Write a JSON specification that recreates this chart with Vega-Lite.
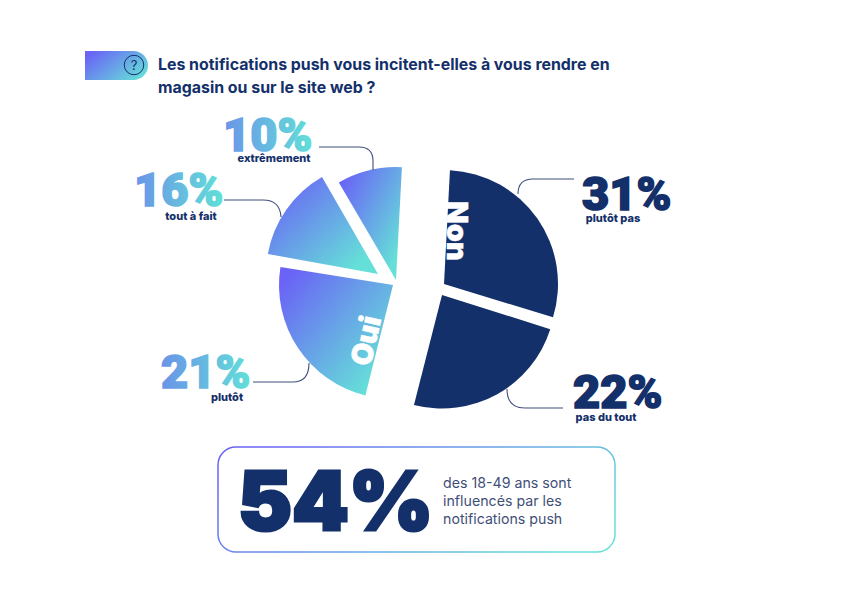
{"$schema":"https://vega.github.io/schema/vega-lite/v6.json","width":851,"height":595,"autosize":{"type":"fit","contains":"padding"},"padding":0,"background":"white","config":{"view":{"stroke":null},"text":{"baseline":"alphabetic"}},
"datasets":{"slices":[
{"name":"extrêmement","pct":"10%","value":10,"group":"Oui","a0":-30.4,"a1":3},
{"name":"tout à fait","pct":"16%","value":16,"group":"Oui","a0":-79.7,"a1":-30},
{"name":"plutôt","pct":"21%","value":21,"group":"Oui","a0":194,"a1":279.1},
{"name":"plutôt pas","pct":"31%","value":31,"group":"Non","a0":3,"a1":107},
{"name":"pas du tout","pct":"22%","value":22,"group":"Non","a0":107.5,"a1":194.3}],
"title":[{"l1":"Les notifications push vous incitent-elles à vous rendre en","l2":"magasin ou sur le site web ?","q":"?","big":"54%","b1":"des 18-49 ans sont","b2":"influencés par les","b3":"notifications push"}]},
"layer":[
{"data":{"name":"title"},"layer":[
{"mark":{"type":"rect","x":84,"y":50,"x2":147,"y2":79,"cornerRadiusTopRight":15,"cornerRadiusBottomRight":15,"fill":{"gradient":"linear","x1":0,"y1":0.2,"x2":1,"y2":0.8,"stops":[{"offset":0,"color":"#6a63f6"},{"offset":1,"color":"#65e0d8"}]}},"encoding":{}},
{"mark":{"type":"rule","x":84,"x2":122,"y":64,"stroke":"#14306a","strokeWidth":1},"encoding":{}},
{"mark":{"type":"point","x":133,"y":64,"size":380,"shape":"circle","filled":false,"opacity":1,"stroke":"#14306a","strokeWidth":1},"encoding":{}},
{"mark":{"type":"text","x":133,"y":69,"align":"center","baseline":"alphabetic","font":"Inter","fontSize":13,"fill":"#14306a"},"encoding":{"text":{"field":"q"}}},
{"mark":{"type":"text","x":157,"y":69,"align":"left","baseline":"alphabetic","font":"Inter","fontWeight":700,"fontSize":15.9,"fill":"#14306a"},"encoding":{"text":{"field":"l1"}}},
{"mark":{"type":"text","x":157,"y":92,"align":"left","baseline":"alphabetic","font":"Inter","fontWeight":700,"fontSize":15.9,"fill":"#14306a"},"encoding":{"text":{"field":"l2"}}},
{"mark":{"type":"rect","x":217,"y":446,"x2":614,"y2":551,"cornerRadius":18,"fill":"white","strokeWidth":1.5,"stroke":{"gradient":"linear","x1":0,"y1":0.3,"x2":1,"y2":0.7,"stops":[{"offset":0,"color":"#6a63f6"},{"offset":1,"color":"#65e0d8"}]}},"encoding":{}},
{"mark":{"type":"text","x":237,"y":529,"align":"left","baseline":"alphabetic","font":"Inter","fontWeight":900,"fontSize":81,"fill":"#14306a","stroke":"#14306a","strokeWidth":3},"encoding":{"text":{"field":"big"}}},
{"mark":{"type":"text","x":442,"y":487,"align":"left","baseline":"alphabetic","font":"Inter","fontSize":14.2,"fill":"#3f4f78"},"encoding":{"text":{"field":"b1"}}},
{"mark":{"type":"text","x":442,"y":505,"align":"left","baseline":"alphabetic","font":"Inter","fontSize":14.2,"fill":"#3f4f78"},"encoding":{"text":{"field":"b2"}}},
{"mark":{"type":"text","x":442,"y":523,"align":"left","baseline":"alphabetic","font":"Inter","fontSize":14.2,"fill":"#3f4f78"},"encoding":{"text":{"field":"b3"}}}
]},
{"data":{"name":"slices"},"transform":[{"filter":"datum.value==10"}],"layer":[
{"mark":{"type":"arc","x":395,"y":279,"outerRadius":113,"fill":{"gradient":"linear","x1":0,"y1":0.15,"x2":0.9,"y2":1,"stops":[{"offset":0,"color":"#6a63f6"},{"offset":0.9,"color":"#65e0d8"}]}},"encoding":{"theta":{"field":"a0","type":"quantitative","stack":null,"scale":{"domain":[-90,270],"range":[-1.5708,4.7124]}},"theta2":{"field":"a1"}}},
{"mark":{"type":"point","x":318,"y":146,"size":4,"filled":false,"opacity":1,"stroke":"#3f4f78","strokeWidth":1.1,"shape":"M0,0 h40 q14,0 14,14 v9"},"encoding":{}},
{"mark":{"type":"text","x":222,"y":150,"align":"left","baseline":"alphabetic","font":"Roboto","fontWeight":900,"fontSize":47,"strokeWidth":1.6,"fill":{"gradient":"linear","x1":0,"y1":0,"x2":1,"y2":0,"stops":[{"offset":0,"color":"#6a94e8"},{"offset":1,"color":"#62dfd8"}]},"stroke":{"gradient":"linear","x1":0,"y1":0,"x2":1,"y2":0,"stops":[{"offset":0,"color":"#6a94e8"},{"offset":1,"color":"#62dfd8"}]}},"encoding":{"text":{"field":"pct"}}},
{"mark":{"type":"text","x":273,"y":161,"align":"center","baseline":"alphabetic","font":"Inter","fontWeight":800,"fontSize":11,"fill":"#14306a"},"encoding":{"text":{"field":"name"}}}
]},
{"data":{"name":"slices"},"transform":[{"filter":"datum.value==16"}],"layer":[
{"mark":{"type":"arc","x":377,"y":273,"outerRadius":112,"fill":{"gradient":"linear","x1":0,"y1":0.15,"x2":0.9,"y2":1,"stops":[{"offset":0,"color":"#6a63f6"},{"offset":0.9,"color":"#65e0d8"}]}},"encoding":{"theta":{"field":"a0","type":"quantitative","stack":null,"scale":{"domain":[-90,270],"range":[-1.5708,4.7124]}},"theta2":{"field":"a1"}}},
{"mark":{"type":"point","x":223,"y":199,"size":4,"filled":false,"opacity":1,"stroke":"#3f4f78","strokeWidth":1.1,"shape":"M0,0 h39 q17,0 18,17"},"encoding":{}},
{"mark":{"type":"text","x":133,"y":205,"align":"left","baseline":"alphabetic","font":"Roboto","fontWeight":900,"fontSize":47,"strokeWidth":1.6,"fill":{"gradient":"linear","x1":0,"y1":0,"x2":1,"y2":0,"stops":[{"offset":0,"color":"#6a94e8"},{"offset":1,"color":"#62dfd8"}]},"stroke":{"gradient":"linear","x1":0,"y1":0,"x2":1,"y2":0,"stops":[{"offset":0,"color":"#6a94e8"},{"offset":1,"color":"#62dfd8"}]}},"encoding":{"text":{"field":"pct"}}},
{"mark":{"type":"text","x":190,"y":219,"align":"center","baseline":"alphabetic","font":"Inter","fontWeight":800,"fontSize":11,"fill":"#14306a"},"encoding":{"text":{"field":"name"}}}
]},
{"data":{"name":"slices"},"transform":[{"filter":"datum.value==21"}],"layer":[
{"mark":{"type":"arc","x":392,"y":284,"outerRadius":114,"fill":{"gradient":"linear","x1":0,"y1":0.15,"x2":0.9,"y2":1,"stops":[{"offset":0,"color":"#6a63f6"},{"offset":0.9,"color":"#65e0d8"}]}},"encoding":{"theta":{"field":"a0","type":"quantitative","stack":null,"scale":{"domain":[-90,270],"range":[-1.5708,4.7124]}},"theta2":{"field":"a1"}}},
{"mark":{"type":"point","x":252,"y":381,"size":4,"filled":false,"opacity":1,"stroke":"#3f4f78","strokeWidth":1.1,"shape":"M0,0 h40 q16,0 16,-19"},"encoding":{}},
{"mark":{"type":"text","x":160,"y":387,"align":"left","baseline":"alphabetic","font":"Roboto","fontWeight":900,"fontSize":47,"strokeWidth":1.6,"fill":{"gradient":"linear","x1":0,"y1":0,"x2":1,"y2":0,"stops":[{"offset":0,"color":"#6a94e8"},{"offset":1,"color":"#62dfd8"}]},"stroke":{"gradient":"linear","x1":0,"y1":0,"x2":1,"y2":0,"stops":[{"offset":0,"color":"#6a94e8"},{"offset":1,"color":"#62dfd8"}]}},"encoding":{"text":{"field":"pct"}}},
{"mark":{"type":"text","x":226,"y":400,"align":"center","baseline":"alphabetic","font":"Inter","fontWeight":800,"fontSize":11,"fill":"#14306a"},"encoding":{"text":{"field":"name"}}},
{"mark":{"type":"text","x":366,"y":340,"align":"center","baseline":"middle","angle":283,"font":"Inter","fontWeight":900,"fontSize":29,"fill":"white","stroke":"white","strokeWidth":0.5},"encoding":{"text":{"field":"group"}}}
]},
{"data":{"name":"slices"},"transform":[{"filter":"datum.value==31"}],"layer":[
{"mark":{"type":"arc","x":443,"y":283,"outerRadius":114,"fill":"#14306a"},"encoding":{"theta":{"field":"a0","type":"quantitative","stack":null,"scale":{"domain":[-90,270],"range":[-1.5708,4.7124]}},"theta2":{"field":"a1"}}},
{"mark":{"type":"point","x":573,"y":178,"size":4,"filled":false,"opacity":1,"stroke":"#3f4f78","strokeWidth":1.1,"shape":"M0,0 h-41 q-15,0 -15,15"},"encoding":{}},
{"mark":{"type":"text","x":581,"y":209,"align":"left","baseline":"alphabetic","font":"Roboto","fontWeight":900,"fontSize":47,"fill":"#14306a","stroke":"#14306a","strokeWidth":1.6},"encoding":{"text":{"field":"pct"}}},
{"mark":{"type":"text","x":612,"y":221,"align":"center","baseline":"alphabetic","font":"Inter","fontWeight":800,"fontSize":11,"fill":"#14306a"},"encoding":{"text":{"field":"name"}}},
{"mark":{"type":"text","x":455,"y":230,"align":"center","baseline":"middle","angle":90,"font":"Inter","fontWeight":900,"fontSize":29,"fill":"white","stroke":"white","strokeWidth":0.5},"encoding":{"text":{"field":"group"}}}
]},
{"data":{"name":"slices"},"transform":[{"filter":"datum.value==22"}],"layer":[
{"mark":{"type":"arc","x":441,"y":294,"outerRadius":113.5,"fill":"#14306a"},"encoding":{"theta":{"field":"a0","type":"quantitative","stack":null,"scale":{"domain":[-90,270],"range":[-1.5708,4.7124]}},"theta2":{"field":"a1"}}},
{"mark":{"type":"point","x":562,"y":407,"size":4,"filled":false,"opacity":1,"stroke":"#3f4f78","strokeWidth":1.1,"shape":"M0,0 h-38 q-18,0 -18,-19"},"encoding":{}},
{"mark":{"type":"text","x":572,"y":407,"align":"left","baseline":"alphabetic","font":"Roboto","fontWeight":900,"fontSize":47,"fill":"#14306a","stroke":"#14306a","strokeWidth":1.6},"encoding":{"text":{"field":"pct"}}},
{"mark":{"type":"text","x":605,"y":420,"align":"center","baseline":"alphabetic","font":"Inter","fontWeight":800,"fontSize":11,"fill":"#14306a"},"encoding":{"text":{"field":"name"}}}
]}
]}
